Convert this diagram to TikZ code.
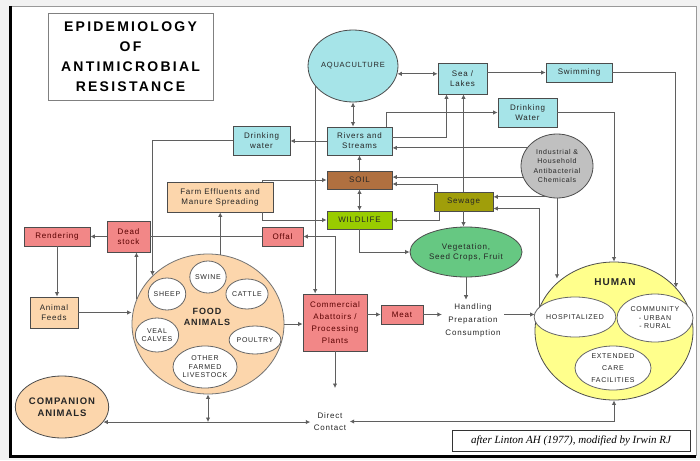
\documentclass[tikz,border=0pt]{standalone}
\usepackage{fontspec}
\setmainfont{Liberation Sans}[LetterSpace=10]
\newfontfamily\titlefont{Liberation Sans}[LetterSpace=16]
\newfontfamily\citefont{Liberation Serif}
\usetikzlibrary{arrows.meta,shapes.geometric}

\definecolor{aquafill}{RGB}{166,228,232}
\definecolor{soilfill}{RGB}{176,112,64}
\definecolor{wildfill}{RGB}{153,204,0}
\definecolor{sewfill}{RGB}{160,158,10}
\definecolor{vegfill}{RGB}{102,200,130}
\definecolor{chemfill}{RGB}{192,192,192}
\definecolor{redfill}{RGB}{242,135,135}
\definecolor{peachfill}{RGB}{252,214,172}
\definecolor{humanfill}{RGB}{255,255,140}
\definecolor{linegray}{RGB}{95,95,95}

\tikzset{
  every node/.style={font=\fontsize{8}{10}\selectfont, text=black!85, align=center},
  sz/.style 2 args={minimum width=#1pt, minimum height=#2pt},
  box/.style={draw=black!70, line width=0.8pt, inner sep=0pt},
  cyanbox/.style={box, fill=aquafill},
  redbox/.style={box, fill=redfill, text=red!35!black},
  peachbox/.style={box, fill=peachfill},
  blob/.style={ellipse, draw=black!70, line width=0.8pt, inner sep=0pt},
  sub/.style={ellipse, draw=black!60, line width=0.8pt, fill=white, inner sep=0pt, font=\fontsize{7}{8.5}\selectfont},
  link/.style={draw=linegray, line width=1pt},
  arr/.style={link, -{Latex[length=4.5pt,width=4.5pt]}},
  arrb/.style={link, {Latex[length=4.5pt,width=4.5pt]}-{Latex[length=4.5pt,width=4.5pt]}},
}

\begin{document}
\begin{tikzpicture}[x=1pt, y=-1pt]

  \useasboundingbox (0,0) rectangle (700,460);
  \fill[gray!10] (0,0) rectangle (700,460);
  \fill[white] (12,6) rectangle (696,456);
  \draw[black!40, line width=0.6pt] (12,6) -- (696,6) -- (696,456);
  \draw[black, line width=3pt] (10,6) -- (10,456) -- (696,456);

  % sources and environment
  \node[box, draw=black!50, sz={165}{87}, font=\titlefont\fontsize{14}{20}\selectfont\bfseries, text=black] (title) at (130.5,56.5) {EPIDEMIOLOGY\\OF\\ANTIMICROBIAL\\RESISTANCE};
  \node[blob, fill=aquafill, sz={88}{72}, font=\fontsize{7.5}{9}\selectfont] (aqua) at (353,66) {AQUACULTURE};
  \node[cyanbox, sz={49}{31}] (sea) at (462.5,78.5) {Sea /\\Lakes};
  \node[cyanbox, sz={66}{19}] (swim) at (579,72.5) {Swimming};
  \node[cyanbox, sz={59}{29}] (dwR) at (527.5,112.5) {Drinking\\Water};
  \node[blob, fill=chemfill, sz={72}{64}, font=\fontsize{7}{9.5}\selectfont] (chem) at (557,166) {Industrial \&\\Household\\Antibacterial\\Chemicals};
  \node[cyanbox, sz={65}{28}] (rivers) at (359.5,141) {Rivers and\\Streams};
  \node[cyanbox, sz={57}{29}] (dwL) at (261.5,140.5) {Drinking\\water};
  \node[box, fill=soilfill, sz={65}{18}] (soil) at (359.5,180) {SOIL};
  \node[box, fill=wildfill, sz={65}{18}] (wild) at (359.5,220) {WILDLIFE};
  \node[peachbox, sz={106}{30}] (farm) at (220,197) {Farm Effluents and\\Manure Spreading};
  \node[box, fill=sewfill, sz={59}{19}] (sewage) at (463.5,201.5) {Sewage};
  \node[blob, fill=vegfill, sz={112}{50}] (veg) at (466,252) {Vegetation,\\Seed Crops, Fruit};

  % animal side
  \node[redbox, sz={41}{19}] (offal) at (282.5,236.5) {Offal};
  \node[redbox, sz={43}{31}] (dead) at (128.5,236.5) {Dead\\stock};
  \node[redbox, sz={66}{19}] (render) at (57,236.5) {Rendering};
  \node[peachbox, sz={48}{31}] (feeds) at (54,312.5) {Animal\\Feeds};
  \node[blob, fill=peachfill, sz={92}{62}, font=\fontsize{9.5}{11.5}\selectfont\bfseries] (comp) at (62,407) {COMPANION\\ANIMALS};
  \node[blob, fill=peachfill, draw=black!55, sz={152}{140}] (food) at (208,324) {};
  \node[font=\fontsize{9}{11}\selectfont\bfseries] (foodtxt) at (207,317) {FOOD\\ANIMALS};
  \node[sub, sz={34}{32}] (swine) at (208,277) {SWINE};
  \node[sub, sz={40}{30}] (cattle) at (247,294) {CATTLE};
  \node[sub, sz={34}{32}] (sheep) at (167,294) {SHEEP};
  \node[sub, sz={38}{34}] (veal) at (157,335) {VEAL\\CALVES};
  \node[sub, sz={44}{28}] (poultry) at (255,340) {POULTRY};
  \node[sub, sz={64}{42}] (other) at (205,367) {OTHER\\FARMED\\LIVESTOCK};
  \node[redbox, sz={64}{57}, font=\fontsize{8}{12}\selectfont] (comm) at (335,322.5) {Commercial\\Abattoirs /\\Processing\\Plants};
  \node[redbox, sz={42}{19}] (meat) at (402,314.5) {Meat};
  \node[font=\fontsize{8}{13}\selectfont] (handling) at (473,320) {Handling\\Preparation\\Consumption};

  % humans
  \node[blob, fill=humanfill, sz={158}{138}] (human) at (614,331) {};
  \node[font=\fontsize{10}{12}\selectfont\bfseries] (humantxt) at (615,282) {HUMAN};
  \node[sub, sz={72}{40}] (hosp) at (575,317) {HOSPITALIZED};
  \node[sub, sz={76}{48}] (commun) at (655,318) {COMMUNITY\\- URBAN\\- RURAL};
  \node[sub, sz={76}{44}, font=\fontsize{7}{12}\selectfont] (ext) at (613,368) {EXTENDED\\CARE\\FACILITIES};
  \node[font=\fontsize{8}{12}\selectfont] (direct) at (330,421.5) {Direct\\Contact};
  \node[draw=black!80, line width=0.6pt, sz={238}{21}, font=\citefont\itshape\fontsize{11}{13}\selectfont, text=black] (cite) at (571,440.5) {after Linton AH (1977), modified by Irwin RJ};

  \coordinate (dcin) at ([yshift=21pt]direct.north -| comm.south);

  % water links
  \draw[arrb] (aqua.-10) -- (aqua.-10 -| sea.west);
  \draw[arr] (sea.east |- swim.west) -- (swim.west);
  \draw[arr] (swim.east) -| (human.35);
  \draw[arr] (dwR.east) -| (human.north);
  \draw[arr] (chem.south) -- (chem.south |- human.135);
  \draw[arr] (chem.250) -- (chem.250 -| sewage.east);
  \draw[arr] (chem.149) -- (chem.149 -| rivers.east);
  \draw[arr] (chem.198) -- (chem.198 -| soil.east);
  \draw[arr] ([xshift=-6pt]rivers.north east) |- (dwR.west);
  \draw[arr] ([yshift=4pt]rivers.east) -| ([xshift=-16pt]sea.south);
  \draw[arr] (sewage.north) -- (sewage.north |- sea.south);
  \draw[arr] (sewage.south) -- (sewage.south |- veg.north);
  \draw[arrb] (aqua.south) -- (aqua.south |- rivers.north);
  \draw[arr] (soil.north) -- (rivers.south);
  \draw[arrb] (soil.south) -- (wild.north);
  \draw[arr] (rivers.west) -- (rivers.west -| dwL.east);
  \draw[arr] (dwL.west) -| (food.139);
  \draw[arr] (aqua.208) -- (aqua.208 |- comm.north);
  \draw[arr] (comm.north) |- (offal.east);
  \draw[arr] ([xshift=-11pt]farm.north east) |- (soil.west);
  \draw[arr] ([xshift=-11pt]farm.south east) |- (wild.west);
  \draw[arr] ([xshift=4pt]sewage.north west) |- ([yshift=-4pt]soil.east);
  \draw[arr] ([xshift=6pt]sewage.south west) |- (wild.east);
  \draw[arr] (wild.south) |- (veg.west);
  \draw[arr] (veg.south) -- (veg.south |- handling.north);

  % food chain
  \draw[arr] (meat.east) -- (meat.east -| handling.west);
  \draw[arr] (handling.east |- meat.east) -- (human.west |- meat.east);
  \draw[arr] (comm.east |- meat.west) -- (meat.west);
  \draw[arr] (food.east) -- (food.east -| comm.west);
  \draw[arr] (feeds.east) -- (feeds.east -| food.west);
  \draw[arr] (render.south) -- (render.south |- feeds.north);
  \draw[arr] (dead.west) -- (render.east);
  \draw[link] (offal.west) -- (dead.east);
  \draw[arr] (food.161) -- (food.161 |- dead.south);
  \draw[arr] (food.80) -- (food.80 |- farm.south);

  % direct contact
  \draw[arrb] (food.south) -- (food.south |- comp.-20);
  \draw[arrb] (comp.-20) -- (comp.-20 -| direct.west);
  \draw[arr] (comm.south) -- (dcin);
  \draw[arrb] (direct.east) -| (human.south);
  \draw[arr] (human.162) |- ([yshift=-7pt]sewage.east);

\end{tikzpicture}
\end{document}
